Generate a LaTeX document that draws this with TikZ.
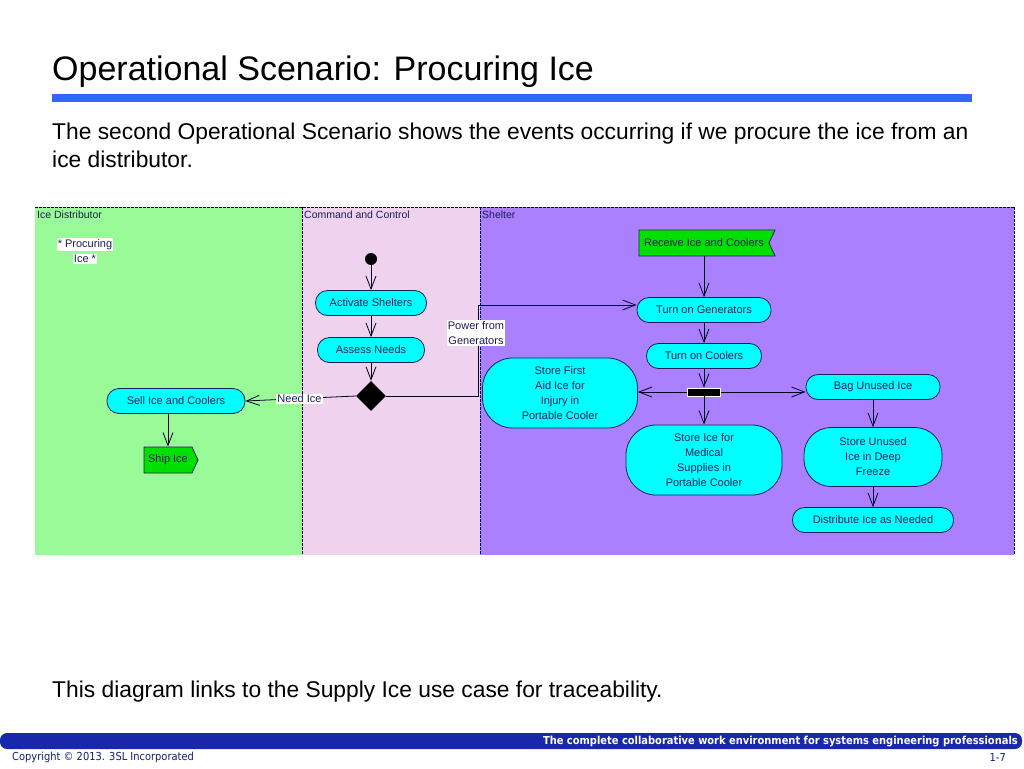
\documentclass[tikz,border=0pt]{standalone}
\usepackage{fontspec}
\setmainfont{Liberation Sans}
\newfontfamily\footfont{DejaVu Sans Condensed}
\usetikzlibrary{arrows.meta,shapes.geometric,shapes.symbols}
\definecolor{lanegreen}{RGB}{152,251,152}
\definecolor{lanepink}{RGB}{238,210,238}
\definecolor{lanepurple}{RGB}{170,128,255}
\definecolor{actcyan}{RGB}{0,255,255}
\definecolor{sigreen}{RGB}{0,224,0}
\definecolor{edgeblue}{RGB}{30,30,90}
\definecolor{rulblue}{RGB}{51,102,255}
\definecolor{footblue}{RGB}{25,40,170}
\definecolor{copyblue}{RGB}{20,30,120}
\begin{document}
\begin{tikzpicture}[x=1pt,y=-1pt,
  dfont/.style={font=\fontsize{11}{15}\selectfont, text=edgeblue},
  act/.style={dfont, draw=edgeblue, fill=actcyan, line width=0.8pt, rounded corners=12pt,
    minimum height=25pt, inner sep=0pt, align=center},
  bigact/.style={act, rounded corners=30pt},
  sendsig/.style={dfont, shape=signal, signal to=east, signal from=nowhere, signal pointer angle=130,
    draw=edgeblue, fill=sigreen, line width=0.8pt, minimum height=26pt, inner sep=0pt},
  recvsig/.style={dfont, shape=signal, signal to=nowhere, signal from=east, signal pointer angle=130,
    draw=edgeblue, fill=sigreen, line width=0.8pt, minimum height=26pt, inner sep=0pt},
  arr/.style={draw=black!85!blue, line width=0.8pt, -{Straight Barb[length=13pt,width=10pt,line width=0.8pt]}},
  lanesep/.style={draw=black!70!blue, line width=0.7pt, dash pattern=on 2.5pt off 1.5pt},
  lbl/.style={dfont, fill=white, inner sep=1pt, align=center},
  lanename/.style={font=\fontsize{10.5}{12}\selectfont, text=edgeblue, anchor=west, inner sep=0pt}
]
\useasboundingbox (0,0) rectangle (1024,768);
\fill[white] (0,0) rectangle (1024,768);

% title
\node[anchor=base west, inner sep=0pt, font=\fontsize{34}{40}\selectfont] (title) at (52,80) {Operational Scenario: Procuring Ice};
\fill[rulblue] (52,94) rectangle (972,102);
\node[anchor=base west, inner sep=0pt, font=\fontsize{22.8}{28}\selectfont] (body1) at (52,139) {The second Operational Scenario shows the events occurring if we procure the ice from an};
\node[anchor=base west, inner sep=0pt, font=\fontsize{22.8}{28}\selectfont] (body2) at (52,167) {ice distributor.};

% lanes
\fill[lanegreen] (35,207) rectangle (302,555);
\fill[lanepink] (302,207) rectangle (480,555);
\fill[lanepurple] (480,207) rectangle (1014,555);
\draw[lanesep] (35,207) -- (1014,207);
\draw[lanesep] (302,207) -- (302,555);
\draw[lanesep] (480,207) -- (480,555);
\draw[lanesep] (1014,207) -- (1014,555);
\node[lanename] (lane1) at (37,215) {Ice Distributor};
\node[lanename] (lane2) at (304,215) {Command and Control};
\node[lanename] (lane3) at (482,215) {Shelter};

\node[dfont, align=center, inner sep=0pt] (proc) at (85,251) {\fboxsep=1pt\colorbox{white}{* Procuring}\\\fboxsep=1pt\colorbox{white}{Ice *}};

% command and control
\node[circle, fill=black, minimum size=12pt, inner sep=0pt] (init) at (371,259) {};
\node[act, minimum width=111pt] (activate) at (371,303) {Activate Shelters};
\node[act, minimum width=107pt] (assess) at (371,350) {Assess Needs};
\node[diamond, fill=black, minimum size=30pt, inner sep=0pt] (dec) at (371,396) {};

% ice distributor
\node[act, minimum width=138pt] (sell) at (176,401) {Sell Ice and Coolers};
\node[sendsig, minimum width=54pt] (ship) at (168,460) {Ship Ice};

% shelter
\node[recvsig, minimum width=136pt] (recv) at (704,243) {Receive Ice and Coolers};
\node[act, minimum width=134pt] (gen) at (704,310) {Turn on Generators};
\node[act, minimum width=115pt] (cool) at (704,356) {Turn on Coolers};
\node[draw=white, fill=black, line width=0.8pt, minimum width=33pt, minimum height=8pt, inner sep=0pt] (fork) at (704,392) {};
\node[bigact, minimum width=155pt, minimum height=70pt] (firstaid) at (560,393) {Store First\\Aid Ice for\\Injury in\\Portable Cooler};
\node[bigact, minimum width=156pt, minimum height=70pt] (medical) at (704,460) {Store Ice for\\Medical\\Supplies in\\Portable Cooler};
\node[act, minimum width=134pt] (bag) at (873,387) {Bag Unused Ice};
\node[bigact, rounded corners=27pt, minimum width=138pt, minimum height=59pt] (freeze) at (873,457) {Store Unused\\Ice in Deep\\Freeze};
\node[act, minimum width=161pt] (distr) at (873,520) {Distribute Ice as Needed};

% connectors
\draw[arr] (init) -- (activate);
\draw[arr] (activate) -- (assess);
\draw[arr] (assess) -- (dec);
\draw[arr] (dec.west) -- (sell.east) node[lbl, pos=0.51] (needice) {Need Ice};
\draw[arr] (sell.south -| ship.north) -- (ship.north);
\coordinate (pbend) at (478,305);
\draw[arr] (dec.east) -| (pbend) -- ([yshift=5pt]gen.west);
\node[lbl] (power) at (476,333) {Power from\\Generators};
\draw[arr] (recv.south) -- (gen.north);
\draw[arr] (gen) -- (cool);
\draw[arr] (cool) -- (fork);
\draw[arr] (fork.west) -- (fork.west -| firstaid.east);
\draw[arr] (fork.south) -- (medical.north);
\draw[arr] (fork.east) -- (fork.east -| bag.west);
\draw[arr] (bag) -- (freeze);
\draw[arr] (freeze) -- (distr);

% bottom text
\node[anchor=base west, inner sep=0pt, font=\fontsize{22.8}{28}\selectfont] (bottom) at (52,697) {This diagram links to the Supply Ice use case for traceability.};

% footer
\fill[footblue, rounded corners=7pt] (0,733) rectangle (1022,749);
\node[anchor=east, inner sep=0pt, text=white, font=\footfont\bfseries\fontsize{11}{12}\selectfont] (tagline) at (1018,741) {The complete collaborative work environment for systems engineering professionals};
\node[anchor=west, inner sep=0pt, text=copyblue, font=\footfont\fontsize{11}{12}\selectfont] (copy) at (12,757) {Copyright © 2013. 3SL Incorporated};
\node[anchor=east, inner sep=0pt, text=copyblue, font=\footfont\fontsize{11}{12}\selectfont] (page) at (1006,757) {1-7};
\end{tikzpicture}
\end{document}
